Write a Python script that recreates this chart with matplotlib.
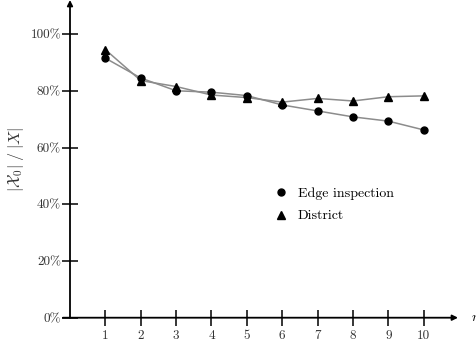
import matplotlib
matplotlib.use("Agg")
import matplotlib.pyplot as plt

plt.rcParams['font.family'] = 'serif'
plt.rcParams['font.serif'] = ['cmr10', 'DejaVu Serif']
plt.rcParams['mathtext.fontset'] = 'cm'
plt.rcParams['axes.formatter.use_mathtext'] = True

n = [1, 2, 3, 4, 5, 6, 7, 8, 9, 10]
edge = [91.5, 84.5, 80.0, 79.5, 78.3, 75.0, 72.9, 70.8, 69.3, 66.2]
district = [94.5, 83.6, 81.5, 78.5, 77.6, 76.0, 77.3, 76.4, 77.9, 78.2]
yticks = [0, 20, 40, 60, 80, 100]
ytick_labels = ['0%', '20%', '40%', '60%', '80%', '100%']

fig = plt.figure(figsize=(4.76, 3.47), dpi=100)
ax = fig.add_axes([70/476, 29.3/347, 388/476, 317.7/347])

ax.plot(n, edge, color='#8c8c8c', lw=1.1, zorder=2)
ax.plot(n, district, color='#8c8c8c', lw=1.1, zorder=2)
ax.plot(n, edge, 'o', color='black', ms=5, label='Edge inspection', zorder=3)
ax.plot(n, district, '^', color='black', ms=5.2, label='District', zorder=3)

ax.set_xlim(0, 10.97)
ax.set_ylim(0, 112)
for s in ['top', 'right', 'left', 'bottom']:
    ax.spines[s].set_visible(False)

# axes with arrows
ax.annotate('', xy=(10.97, 0), xytext=(-0.2, 0), annotation_clip=False,
            arrowprops=dict(arrowstyle='-|>', color='black', lw=1.3,
                            mutation_scale=8, shrinkA=0, shrinkB=0))
ax.annotate('', xy=(0, 112), xytext=(0, 0), annotation_clip=False,
            arrowprops=dict(arrowstyle='-|>', color='black', lw=1.3,
                            mutation_scale=8, shrinkA=0, shrinkB=0))

ax.set_xticks(n)
ax.set_xticklabels([str(i) for i in n])
ax.set_yticks(yticks)
ax.set_yticklabels(ytick_labels)
ax.tick_params(axis='both', direction='inout', length=11, width=1.1,
               labelsize=9.5, colors='black', labelcolor='#333333')
ax.tick_params(axis='x', pad=3)
ax.tick_params(axis='y', pad=1)

ax.text(11.33, 0, '$n$', fontsize=10, va='center', ha='left', clip_on=False)
fig.text(16/476, 0.542, r'$|\mathcal{X}_0|\;/\;|X|$', rotation=90,
         fontsize=11.5, ha='center', va='center', color='#333333')

ax.legend(loc='center', bbox_to_anchor=(0.68, 0.355), frameon=False,
          fontsize=10, handletextpad=0.7, labelspacing=0.7, handlelength=1.0)

fig.savefig('out.png', dpi=100)
